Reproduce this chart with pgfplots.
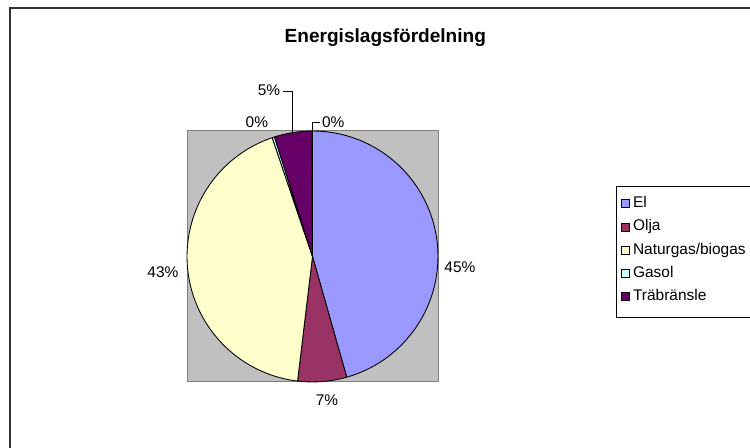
\documentclass[border=0pt]{standalone}
\usepackage{pgfplots}
\pgfplotsset{compat=1.18}
\usepackage{pgfplotstable}
\usepackage{fontspec}
\setmainfont{Liberation Sans}

\definecolor{c0}{HTML}{9999FF}
\definecolor{c1}{HTML}{993366}
\definecolor{c2}{HTML}{FFFFCC}
\definecolor{c3}{HTML}{CCFFFF}
\definecolor{c4}{HTML}{660066}
\definecolor{c5}{HTML}{FF8080}
\definecolor{plotgray}{HTML}{C0C0C0}
\definecolor{bordergray}{HTML}{808080}

% share of each energy type (percent), clockwise from 12 o'clock
\pgfplotstableread{
category value
El 45.6
Olja 6.3
Naturgas/biogas 42.9
Gasol 0.3
Träbränsle 4.8
Ovrigt 0.1
}\piedata

\def\cum{0}
\pgfplotsforeachungrouped \i in {0,...,5}{%
  \pgfplotstablegetelem{\i}{value}\of\piedata
  \pgfmathsetmacro\sa{90-3.6*\cum}%
  \pgfmathsetmacro\cum{\cum+\pgfplotsretval}%
  \pgfmathsetmacro\ea{90-3.6*\cum}%
  \expandafter\xdef\csname sa\i\endcsname{\sa}%
  \expandafter\xdef\csname ea\i\endcsname{\ea}%
}
\def\R{94.1pt}

\begin{document}
\begin{tikzpicture}
\useasboundingbox (0,0) rectangle (562.5pt,336pt);
\fill[white] (0,0) rectangle (562.5pt,336pt);
\clip (0,0) rectangle (562.5pt,336pt);
\draw[line width=1.1pt, black!80] (7.5pt,-20pt) -- (7.5pt,330pt) -- (600pt,330pt);
\node[anchor=base, font=\fontsize{14.3}{16}\selectfont\bfseries] at (289pt,303.75pt) {Energislagsfördelning};
\begin{axis}[
  at={(140.25pt,49.5pt)}, anchor=south west,
  width=188.25pt, height=188.25pt, scale only axis,
  xmin=-1, xmax=1, ymin=-1, ymax=1,
  xtick=\empty, ytick=\empty,
  clip=false,
  axis background/.style={fill=plotgray},
  axis line style={draw=bordergray, line width=0.75pt},
  legend style={at={(1.729,0.743)}, anchor=north west, draw=none, fill=none,
    inner sep=0pt, font=\fontsize{11.6}{13}\selectfont,
    cells={anchor=west}, column sep=2.25pt, row sep=5.4pt,
    nodes={inner sep=0pt, text height=9pt, text depth=3pt}},
  legend image code/.code={\draw[#1, line width=0.6pt] (0pt,-3pt) rectangle (6pt,3pt);},
]
\pgfplotsinvokeforeach{0,...,5}{
  \filldraw[fill=c#1, draw=black, line width=0.65pt, line join=round]
    (axis cs:0,0) -- ++(\csname sa#1\endcsname:\R)
    arc[start angle=\csname sa#1\endcsname, end angle=\csname ea#1\endcsname, radius=\R] -- cycle;
}
\addlegendimage{fill=c0, draw=black}\addlegendentry{El}
\addlegendimage{fill=c1, draw=black}\addlegendentry{Olja}
\addlegendimage{fill=c2, draw=black}\addlegendentry{Naturgas/biogas}
\addlegendimage{fill=c3, draw=black}\addlegendentry{Gasol}
\addlegendimage{fill=c4, draw=black}\addlegendentry{Träbränsle}
\begin{scope}[font=\fontsize{11.6}{13}\selectfont]
\node at (axis cs:1.175,-0.084) {45\%};
\node at (axis cs:0.115,-1.143) {7\%};
\node at (axis cs:-1.192,-0.124) {43\%};
\node at (axis cs:-0.443,1.074) {0\%};
\node at (axis cs:-0.347,1.327) {5\%};
\node at (axis cs:0.165,1.074) {0\%};
\end{scope}
\draw[line width=0.6pt] (axis cs:-0.162,0.994) -- (axis cs:-0.162,1.319) -- (axis cs:-0.235,1.319);
\draw[line width=0.6pt] (axis cs:0,1) -- (axis cs:0,1.069) -- (axis cs:0.059,1.069);
\end{axis}
\draw[line width=0.75pt] (462pt,97.5pt) rectangle (620pt,195.75pt);
\end{tikzpicture}
\end{document}
